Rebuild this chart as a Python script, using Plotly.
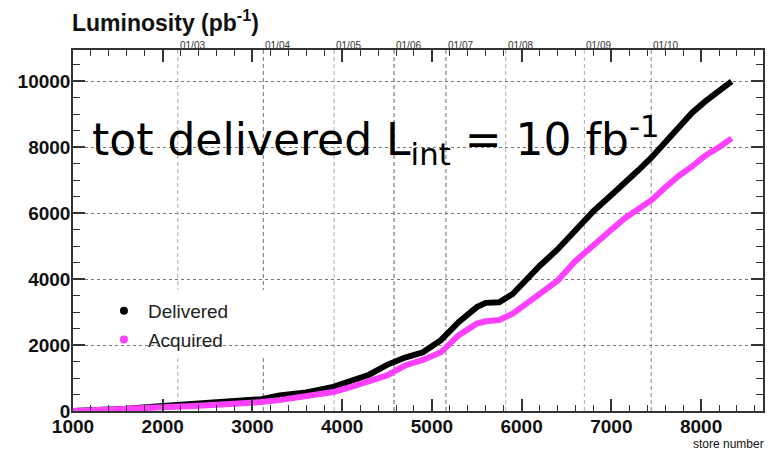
import plotly.graph_objects as go

# Store number and cumulative integrated luminosity (pb^-1)
store = [1000, 1300, 1600, 2000, 2400, 2800, 3100, 3300, 3600, 3900, 4100, 4300,
         4500, 4700, 4900, 5100, 5300, 5500, 5600, 5750, 5900, 6050, 6200, 6400,
         6600, 6800, 7000, 7150, 7300, 7450, 7600, 7750, 7900, 8050, 8200, 8340]
delivered = [0, 30, 70, 150, 220, 290, 360, 470, 560, 730, 900, 1100,
             1400, 1620, 1780, 2150, 2700, 3150, 3280, 3300, 3550, 4000, 4400, 4900,
             5500, 6060, 6550, 6900, 7300, 7700, 8150, 8600, 9050, 9400, 9700, 10000]
acquired = [0, 20, 50, 110, 160, 210, 270, 330, 430, 575, 730, 900,
            1080, 1380, 1550, 1780, 2300, 2650, 2720, 2760, 2950, 3250, 3550, 3950,
            4550, 5050, 5500, 5850, 6100, 6400, 6780, 7130, 7420, 7750, 8000, 8270]

# Calendar markers along the top axis (first store of each year)
date_labels = ["01/03", "01/04", "01/05", "01/06", "01/07", "01/08", "01/09", "01/10"]
date_stores = [2167, 3122, 3911, 4578, 5156, 5822, 6700, 7444]
date_line_colors = ["#bbbbbb", "#888888", "#bbbbbb", "#777777",
                    "#888888", "#bbbbbb", "#bbbbbb", "#999999"]

y_ticks = [0, 2000, 4000, 6000, 8000, 10000]
y_tick_text = ["0", "2000", "4000", "6000", "8000", "10000"]
x_ticks = [1000, 2000, 3000, 4000, 5000, 6000, 7000, 8000]

BLACK = "#000000"
PINK = "#ff40ff"
BOLD = dict(family="Liberation Sans, Arial, sans-serif", size=19, color="#111", weight="bold")

fig = go.Figure()

fig.add_trace(go.Scatter(x=store, y=delivered, mode="lines",
                         line=dict(color=BLACK, width=6), showlegend=False))
fig.add_trace(go.Scatter(x=store, y=acquired, mode="lines",
                         line=dict(color=PINK, width=6), showlegend=False))

# legend entries shown as dots
fig.add_trace(go.Scatter(x=[None], y=[None], mode="markers", name="Delivered",
                         marker=dict(color=BLACK, size=8), legendgroup="d"))
fig.add_trace(go.Scatter(x=[None], y=[None], mode="markers", name="Acquired",
                         marker=dict(color=PINK, size=8), legendgroup="a"))

shapes = []
for xs, col in zip(date_stores, date_line_colors):
    shapes.append(dict(type="line", xref="x", yref="paper", x0=xs, x1=xs, y0=0, y1=1,
                       line=dict(color=col, width=1.2, dash="4px,3px"), layer="below"))
# white panel behind the legend
shapes.append(dict(type="rect", xref="x", yref="y", x0=1256, x1=3433, y0=1636, y1=3667,
                   fillcolor="white", line=dict(width=0), layer="below"))

annotations = []
for lab, xs in zip(date_labels, date_stores):
    annotations.append(dict(x=xs, xref="x", y=1, yref="paper", text=lab,
                            xanchor="left", yanchor="bottom", yshift=-3, showarrow=False,
                            font=dict(family="Liberation Sans, Arial", size=10, color="#333")))

annotations += [
    dict(x=0, xref="paper", y=1, yref="paper", xshift=-3, yshift=12,
         text="Luminosity (pb<sup>-1</sup>)", showarrow=False,
         xanchor="left", yanchor="bottom",
         font=dict(family="Liberation Sans, Arial", size=23, color="#111", weight="bold")),
    dict(x=1, xref="paper", y=0, yref="paper", yshift=-42, xshift=3,
         text="store number", showarrow=False, xanchor="right", yanchor="bottom",
         font=dict(family="Liberation Sans, Arial", size=12, color="#111")),
    dict(x=(90 - 73) / 692, xref="paper", y=(411 - 140) / 361, yref="paper",
         text="tot delivered L<sub>int</sub> = 10 fb<sup>-1</sup>", showarrow=False,
         xanchor="left", yanchor="middle",
         font=dict(family="DejaVu Sans, sans-serif", size=44, color="#000")),
    dict(x=(268 - 73) / 692, xref="paper", y=1, yref="paper", yshift=48,
         text="Integrated Luminosity", showarrow=False, xanchor="left", yanchor="bottom",
         font=dict(family="DejaVu Sans, sans-serif", size=23, color="#000", weight="bold")),
]

fig.update_layout(
    width=769, height=452,
    margin=dict(l=73, r=4, t=50, b=41),
    paper_bgcolor="white", plot_bgcolor="white",
    shapes=shapes, annotations=annotations,
    legend=dict(x=(100 - 73) / 692, y=(411 - 292) / 361, xanchor="left", yanchor="top",
                bgcolor="rgba(0,0,0,0)", traceorder="grouped", tracegroupgap=1,
                itemwidth=38,
                font=dict(family="Liberation Sans, Arial", size=19, color="#222")),
    xaxis=dict(range=[1000, 8690], tickvals=x_ticks, ticks="inside", ticklen=12,
               tickwidth=1.5, tickcolor="#333", showline=True, linecolor="#333", linewidth=1.5,
               mirror="ticks", showgrid=False, zeroline=False, tickfont=BOLD,
               ticklabelstandoff=-3,
               minor=dict(dtick=200, ticks="inside", ticklen=6, tickcolor="#333",
                          tickwidth=1.2, showgrid=False)),
    yaxis=dict(range=[0, 10950], tickvals=y_ticks, ticktext=y_tick_text,
               ticks="inside", ticklen=12,
               tickwidth=1.5, tickcolor="#333", showline=True, linecolor="#333", linewidth=1.5,
               mirror="ticks", showgrid=True, gridcolor="#777", griddash="dot", gridwidth=1,
               zeroline=False, tickfont=BOLD, ticklabelstandoff=-3,
               minor=dict(dtick=500, ticks="inside", ticklen=7, tickcolor="#333",
                          tickwidth=1.2, showgrid=False)),
)

fig.write_html("out.html")
